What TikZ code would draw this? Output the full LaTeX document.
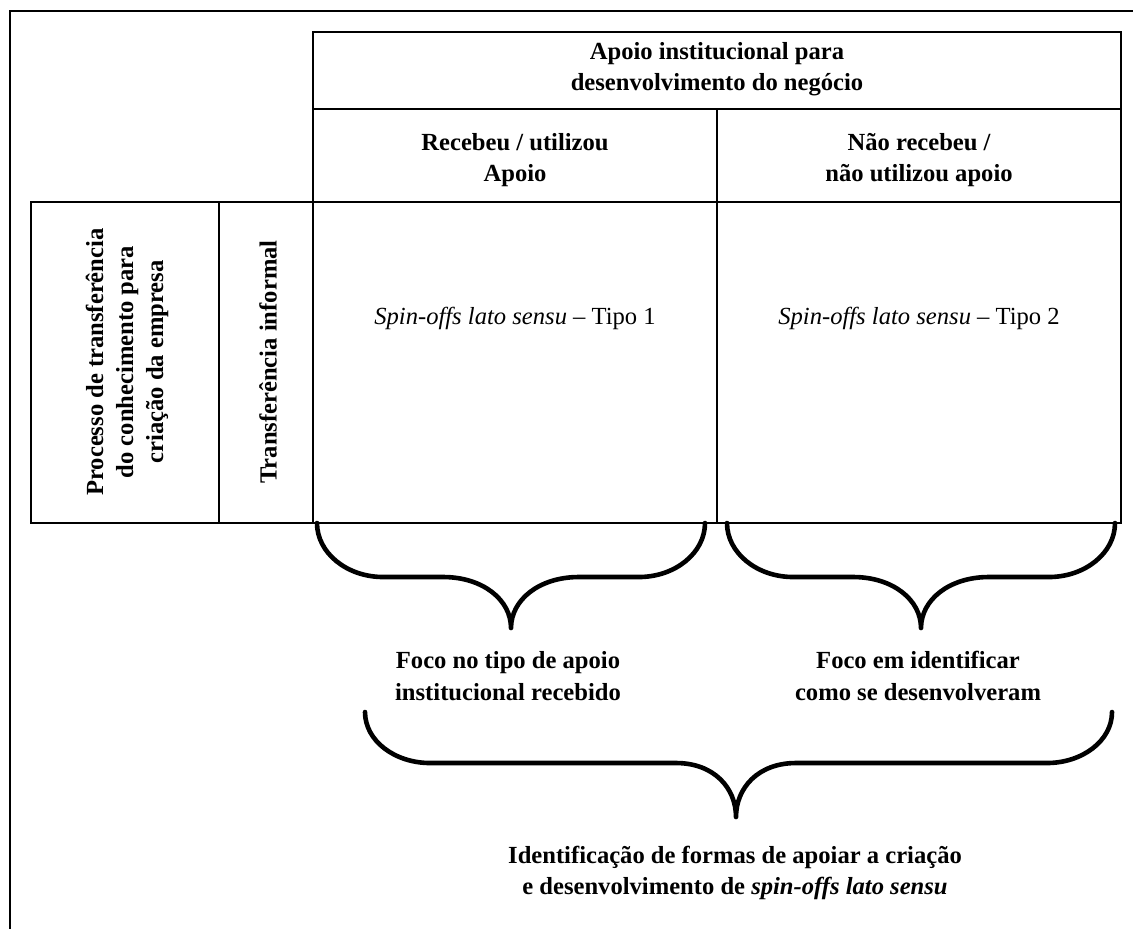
\documentclass[tikz,border=0pt]{standalone}
\usepackage{fontspec}
\setmainfont{Liberation Serif}
\begin{document}
\begin{tikzpicture}[x=0.5pt,y=-0.5pt,
  grid/.style={line width=1pt},
  bracestyle/.style={line width=2.3pt,line cap=round,line join=round},
  txt/.style={align=center,inner sep=0pt,font=\fontsize{12.3}{15.8}\selectfont\bfseries},
  plain/.style={align=center,inner sep=0pt,font=\fontsize{12.3}{15.8}\selectfont}]
\useasboundingbox (0,0) rectangle (1133,928);
% outer frame (cropped at right and bottom)
\draw[grid] (1140,11) -- (10,11) -- (10,935);
% table
\draw[grid] (313,32) rectangle (1121,523);
\draw[grid] (313,109) -- (1121,109);
\draw[grid] (313,202) -- (1121,202);
\draw[grid] (717,109) -- (717,523);
\draw[grid] (313,202) -- (31,202) -- (31,523) -- (313,523);
\draw[grid] (219,202) -- (219,523);
% texts
\node[txt] (head) at (717,69) {Apoio institucional para\\desenvolvimento do negócio};
\node[txt] (rec) at (515,160) {Recebeu / utilizou\\Apoio};
\node[txt] (nrec) at (919,160) {Não recebeu /\\não utilizou apoio};
\node[plain] (t1) at (515,318) {\textit{Spin-offs lato sensu} – Tipo 1};
\node[plain] (t2) at (919,318) {\textit{Spin-offs lato sensu} – Tipo 2};
\node[txt,rotate=90,font=\fontsize{12.3}{15}\selectfont\bfseries] (proc) at (127,362) {Processo de transferência\\do conhecimento para\\criação da empresa};
\node[txt,rotate=90] (inf) at (268,362) {Transferência informal};
% braces
\draw[bracestyle] (317,523) .. controls (317,553) and (347,577) .. (383,577)
  -- (443,577) .. controls (483,577) and (511,600) .. (511,628)
  .. controls (511,600) and (539,577) .. (579,577) -- (639,577)
  .. controls (675,577) and (705,553) .. (705,523);
\draw[bracestyle] (727,523) .. controls (727,553) and (757,577) .. (793,577)
  -- (853,577) .. controls (893,577) and (921,600) .. (921,628)
  .. controls (921,600) and (949,577) .. (989,577) -- (1049,577)
  .. controls (1085,577) and (1115,553) .. (1115,523);
\draw[bracestyle] (365,712) .. controls (365,741) and (395,763) .. (430,763)
  -- (676,763) .. controls (714,763) and (736,788) .. (736,817)
  .. controls (736,788) and (758,763) .. (796,763) -- (1047,763)
  .. controls (1082,763) and (1112,741) .. (1112,712);
\node[txt] (f1) at (508,676) {Foco no tipo de apoio\\institucional recebido};
\node[txt] (f2) at (918,676) {Foco em identificar\\como se desenvolveram};
\node[txt] (fin) at (735,873) {Identificação de formas de apoiar a criação\\e desenvolvimento de \textit{spin-offs lato sensu}};
\end{tikzpicture}
\end{document}
